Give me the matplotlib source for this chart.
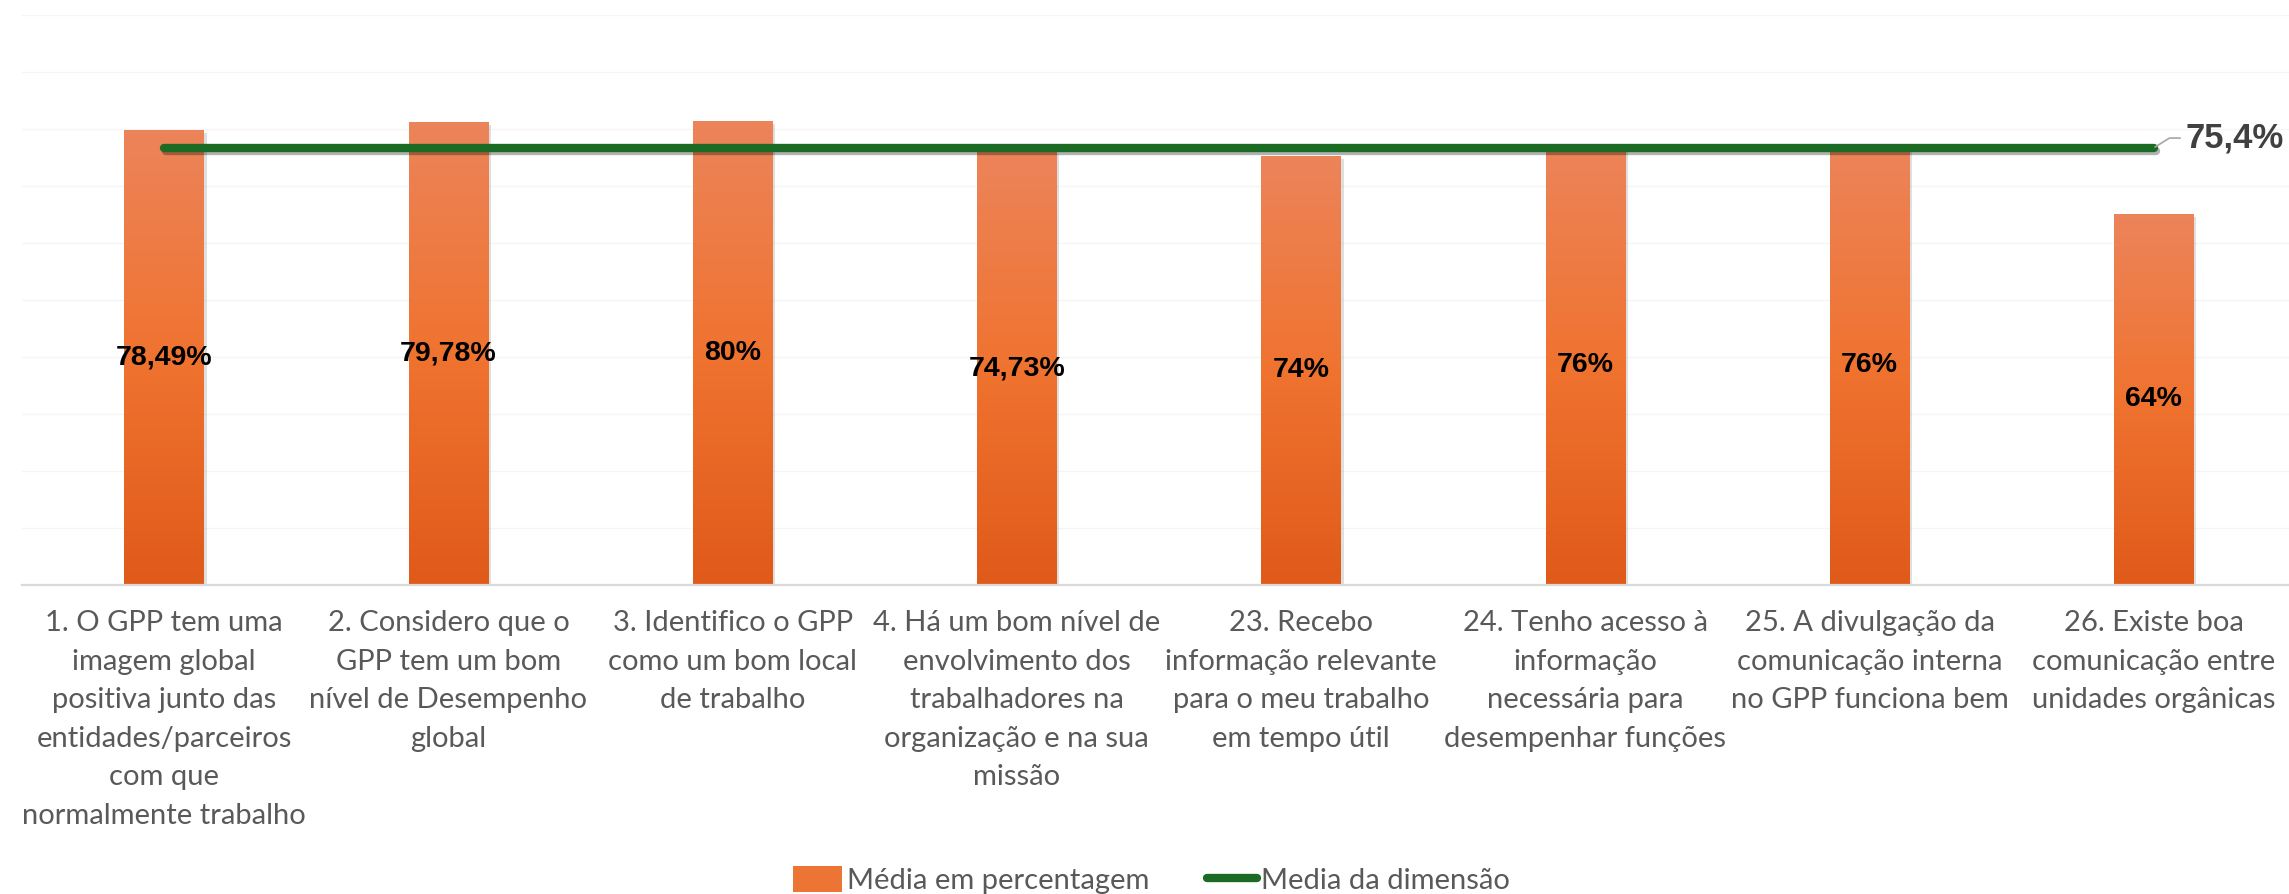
import numpy as np
import matplotlib
matplotlib.use("Agg")
import matplotlib.pyplot as plt
import matplotlib.patheffects as pe
from matplotlib.patches import Patch
from matplotlib.lines import Line2D
from matplotlib.colors import LinearSegmentedColormap

# data
categorias = [
    "1. O GPP tem uma\nimagem global\npositiva junto das\nentidades/parceiros\ncom que\nnormalmente trabalho",
    "2. Considero que o\nGPP tem um bom\nnível de Desempenho\nglobal",
    "3. Identifico o GPP\ncomo um bom local\nde trabalho",
    "4. Há um bom nível de\nenvolvimento dos\ntrabalhadores na\norganização e na sua\nmissão",
    "23. Recebo\ninformação relevante\npara o meu trabalho\nem tempo útil",
    "24. Tenho acesso à\ninformação\nnecessária para\ndesempenhar funções",
    "25. A divulgação da\ncomunicação interna\nno GPP funciona bem",
    "26. Existe boa\ncomunicação entre\nunidades orgânicas",
]
media_pct = [78.49, 79.78, 80, 74.73, 74, 76, 76, 64]
rotulos = ["78,49%", "79,78%", "80%", "74,73%", "74%", "76%", "76%", "64%"]
media_dimensao = [75.4] * len(categorias)
rotulo_dimensao = "75,4%"

W, H = 2289, 894
fig = plt.figure(figsize=(W / 100, H / 100), dpi=100)
ax = fig.add_axes([22 / W, 1 - 585 / H, 2274 / W, 570 / H])

x = np.arange(len(categorias))
ymax = 98.3

# faint gridlines
for g in np.linspace(0, ymax, 11)[1:]:
    ax.axhline(g, color="#f5f5f5", lw=1, zorder=0)

bars = ax.bar(x, media_pct, width=0.28, color="#ec7434", zorder=2,
              path_effects=[pe.SimplePatchShadow(offset=(2, -2), alpha=0.25, shadow_rgbFace="#808080"), pe.Normal()])

# vertical gradient inside each bar
cmap = LinearSegmentedColormap.from_list("laranja", ["#e05a1a", "#f07330", "#ec845a"])
grad = np.linspace(0, 1, 256).reshape(-1, 1)
for b in bars:
    x0, y0 = b.get_x(), b.get_y()
    im = ax.imshow(grad, cmap=cmap, origin="lower", aspect="auto", zorder=2.5,
                   extent=[x0, x0 + b.get_width(), y0, y0 + b.get_height()])
    im.set_clip_path(b)

for xi, v, lab in zip(x, media_pct, rotulos):
    ax.text(xi, v / 2, lab, ha="center", va="center", fontsize=20.5, fontweight="bold",
            family="Liberation Sans", color="black", zorder=4)

ax.plot(x, media_dimensao, color="#1b6b24", lw=6, solid_capstyle="round", zorder=3,
        path_effects=[pe.SimpleLineShadow(offset=(1.5, -2), alpha=0.3), pe.Normal()])

ax.annotate(rotulo_dimensao, xy=(x[-1], media_dimensao[-1]), xytext=(23, 7), textcoords="offset points",
            ha="left", va="center", fontsize=25, fontweight="bold", family="Liberation Sans",
            color="#404040", zorder=4,
            arrowprops=dict(arrowstyle="-", color="#a6a6a6", lw=1.2, shrinkA=2, shrinkB=1,
                            connectionstyle="angle,angleA=0,angleB=32,rad=0"))

ax.set_xlim(-0.5, len(categorias) - 0.5)
ax.set_ylim(0, ymax)
ax.set_xticks(x)
ax.set_xticklabels(categorias, fontsize=21, family="Lato", color="#595959", linespacing=1.6)
ax.tick_params(axis="x", length=0, pad=18)
ax.set_yticks([])
for s in ["top", "right", "left"]:
    ax.spines[s].set_visible(False)
ax.spines["bottom"].set_color("#d9d9d9")
ax.spines["bottom"].set_linewidth(1.6)

handles = [Patch(facecolor="#ec7434", edgecolor="none"),
           Line2D([0], [0], color="#1b6b24", lw=6, solid_capstyle="round")]
fig.legend(handles, ["Média em percentagem", "Media da dimensão"], loc="center",
           bbox_to_anchor=(0.503, 1 - 880 / H), ncol=2, frameon=False,
           prop={"family": "Lato", "size": 21}, labelcolor="#595959",
           handlelength=1.7, handleheight=1.0, handletextpad=0.15, columnspacing=2.0)

fig.savefig("out.png", dpi=100, facecolor="white")
